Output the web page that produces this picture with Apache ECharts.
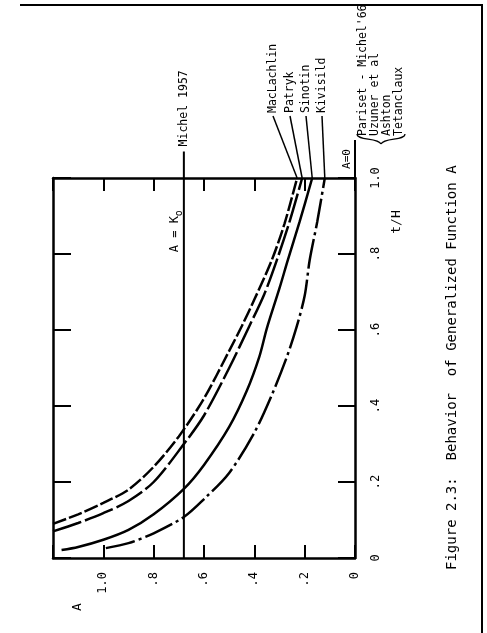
<!DOCTYPE html>
<html>
<head>
<meta charset="utf-8">
<script src="https://cdn.jsdelivr.net/npm/echarts@6/dist/echarts.min.js"></script>
<style>
  html, body { margin: 0; padding: 0; background: #fff; }
  #chart { width: 487px; height: 633px; }
</style>
</head>
<body>
<div id="chart"></div>
<script>
const FONT = 'DejaVu Sans Mono, monospace'

// A read along each curve, with t/H at the same points
const maclachlinA = [1.2, 1.1, 1.0, 0.9, 0.8, 0.7, 0.6, 0.5, 0.45, 0.4, 0.33, 0.28, 0.23]
const maclachlinT = [0.09, 0.115, 0.145, 0.18, 0.24, 0.32, 0.42, 0.545, 0.61, 0.68, 0.785, 0.88, 1.0]
const patrykA = [1.2, 1.1, 1.0, 0.9, 0.8, 0.68, 0.6, 0.5, 0.42, 0.36, 0.31, 0.26, 0.21]
const patrykT = [0.07, 0.092, 0.118, 0.15, 0.2, 0.3, 0.375, 0.5, 0.61, 0.695, 0.785, 0.885, 1.0]
const sinotinA = [1.166, 1.1, 1.0, 0.9, 0.8, 0.68, 0.6, 0.5, 0.43, 0.38, 0.35, 0.3, 0.267, 0.22, 0.17]
const sinotinT = [0.021, 0.029, 0.048, 0.074, 0.115, 0.182, 0.245, 0.345, 0.44, 0.53, 0.605, 0.71, 0.784, 0.885, 1.0]
const kivisildA = [0.99, 0.9, 0.8, 0.68, 0.6, 0.5, 0.4, 0.33, 0.271, 0.232, 0.2, 0.18, 0.15, 0.12]
const kivisildT = [0.026, 0.039, 0.065, 0.108, 0.155, 0.224, 0.33, 0.43, 0.529, 0.608, 0.69, 0.784, 0.885, 1.0]

const kZero = 0.68 // Michel 1957, A = Ko
const curveNames = ['MacLachlin', 'Patryk', 'Sinotin', 'Kivisild']
const zeroNames = ["Pariset - Michel'66", 'Uzuner et al', 'Ashton', 'Tetanclaux']

const pairs = (a, t) => a.map((v, i) => [v, t[i]])
const fmt = (v) => {
  const r = Math.round(v * 10) / 10
  if (r === 0) return '0'
  if (r > 1.05) return ''
  if (r === 1) return '1.0'
  return r.toFixed(1).slice(1)
}

const chart = echarts.init(document.getElementById('chart'))

const axisLine = { show: true, onZero: false, lineStyle: { color: '#000', width: 2.5 } }
const tickStyle = { color: '#000', width: 2 }

const curve = (name, data, dash) => ({
  name,
  type: 'line',
  data,
  symbol: 'none',
  smooth: 0.3,
  xAxisIndex: 0,
  yAxisIndex: 0,
  lineStyle: { color: '#000', width: 2.5, type: dash },
})

chart.setOption({
  backgroundColor: '#fff',
  animation: false,
  grid: { left: 53, right: 132, top: 178, bottom: 75 },
  xAxis: [
    {
      type: 'value', min: 0, max: 1.2, interval: 0.2, inverse: true, position: 'bottom',
      axisLine, splitLine: { show: false },
      axisTick: { inside: true, length: 13, lineStyle: tickStyle },
      axisLabel: { rotate: 90, margin: 14, formatter: fmt, color: '#000', fontFamily: FONT, fontSize: 12 },
    },
    {
      type: 'value', min: 0, max: 1.2, interval: 0.2, inverse: true, position: 'top',
      axisLine, splitLine: { show: false },
      axisTick: { inside: true, length: 13, lineStyle: tickStyle },
      axisLabel: { show: false },
    },
  ],
  yAxis: [
    {
      type: 'value', min: 0, max: 1, interval: 0.2, position: 'right',
      axisLine, splitLine: { show: false },
      axisTick: { inside: true, length: 17, lineStyle: tickStyle },
      axisLabel: { rotate: 90, margin: 15, formatter: fmt, color: '#000', fontFamily: FONT, fontSize: 12 },
    },
    {
      type: 'value', min: 0, max: 1, interval: 0.2, position: 'left',
      axisLine, splitLine: { show: false },
      axisTick: { inside: true, length: 18, lineStyle: tickStyle },
      axisLabel: { show: false },
    },
  ],
  series: [
    curve('MacLachlin', pairs(maclachlinA, maclachlinT), [14, 3]),
    curve('Patryk', pairs(patrykA, patrykT), [30, 4]),
    curve('Sinotin', pairs(sinotinA, sinotinT), 'solid'),
    curve('Kivisild', pairs(kivisildA, kivisildT), [30, 4, 3, 4]),
    {
      type: 'line', data: [[kZero, 0], [kZero, 1.07]], clip: false, symbol: 'none',
      lineStyle: { color: '#000', width: 2 },
    },
    {
      type: 'line', data: [[0, 1], [0, 1.1]], clip: false, symbol: 'none',
      lineStyle: { color: '#000', width: 2 },
    },
  ],
})

// rotated annotations, placed after the axes are laid out
const px = (a, t) => chart.convertToPixel({ xAxisIndex: 0, yAxisIndex: 0 }, [a, t])
const vText = (text, x, y, size, align) => ({
  type: 'text', x, y, rotation: Math.PI / 2,
  style: { text, fill: '#000', font: size + 'px ' + FONT, align: align || 'left', verticalAlign: 'middle' },
})
const seg = (p, q, w) => ({
  type: 'line', shape: { x1: p[0], y1: p[1], x2: q[0], y2: q[1] },
  style: { stroke: '#000', lineWidth: w || 1.5 },
})

const ends = [maclachlinA, patrykA, sinotinA, kivisildA].map((a) => px(a[a.length - 1], 1))
const labelX = [273, 290, 306, 322]
const labelY = 113
const kPos = px(kZero, 1.07)
const zeroPos = px(0, 1.1)
const kMid = px(kZero, 0.86)

const els = []
curveNames.forEach((n, i) => {
  els.push(vText(n, labelX[i], labelY, 11.5))
  els.push(seg(ends[i], [labelX[i], labelY + 3]))
})
els.push(vText('Michel 1957', kPos[0], kPos[1] - 5, 11.5))
els.push({
  type: 'text', x: kMid[0] - 9, y: kMid[1], rotation: Math.PI / 2,
  style: {
    text: 'A = K{s|o}', fill: '#000', font: '12px ' + FONT, align: 'center', verticalAlign: 'middle',
    rich: { s: { fontSize: 10, fontFamily: FONT, padding: [9, 0, 0, 0] } },
  },
})
els.push(vText('A=0', zeroPos[0] - 8, zeroPos[1] + 19, 11, 'center'))
zeroNames.forEach((n, i) => {
  els.push(vText(n, 363 + i * 12, 136, 11.5))
})
els.push({ type: 'bezierCurve', shape: { x1: 357, y1: 134, cpx1: 357, cpy1: 141, cpx2: 378, cpy2: 137, x2: 381, y2: 144 }, style: { stroke: '#000', lineWidth: 1.2, fill: null } })
els.push({ type: 'bezierCurve', shape: { x1: 381, y1: 144, cpx1: 384, cpy1: 137, cpx2: 405, cpy2: 141, x2: 405, y2: 134 }, style: { stroke: '#000', lineWidth: 1.2, fill: null } })
els.push(vText('t/H', 397, 222, 13, 'center'))
els.push(vText('A', 78, 607, 13, 'center'))
els.push(vText('Figure 2.3:  Behavior  of Generalized Function A', 452, 570, 14))
els.push({ type: 'polyline', shape: { points: [[20, 5], [482, 5], [482, 633]] }, style: { stroke: '#000', lineWidth: 2, fill: null } })

chart.setOption({ graphic: { elements: els } })
</script>
</body>
</html>
